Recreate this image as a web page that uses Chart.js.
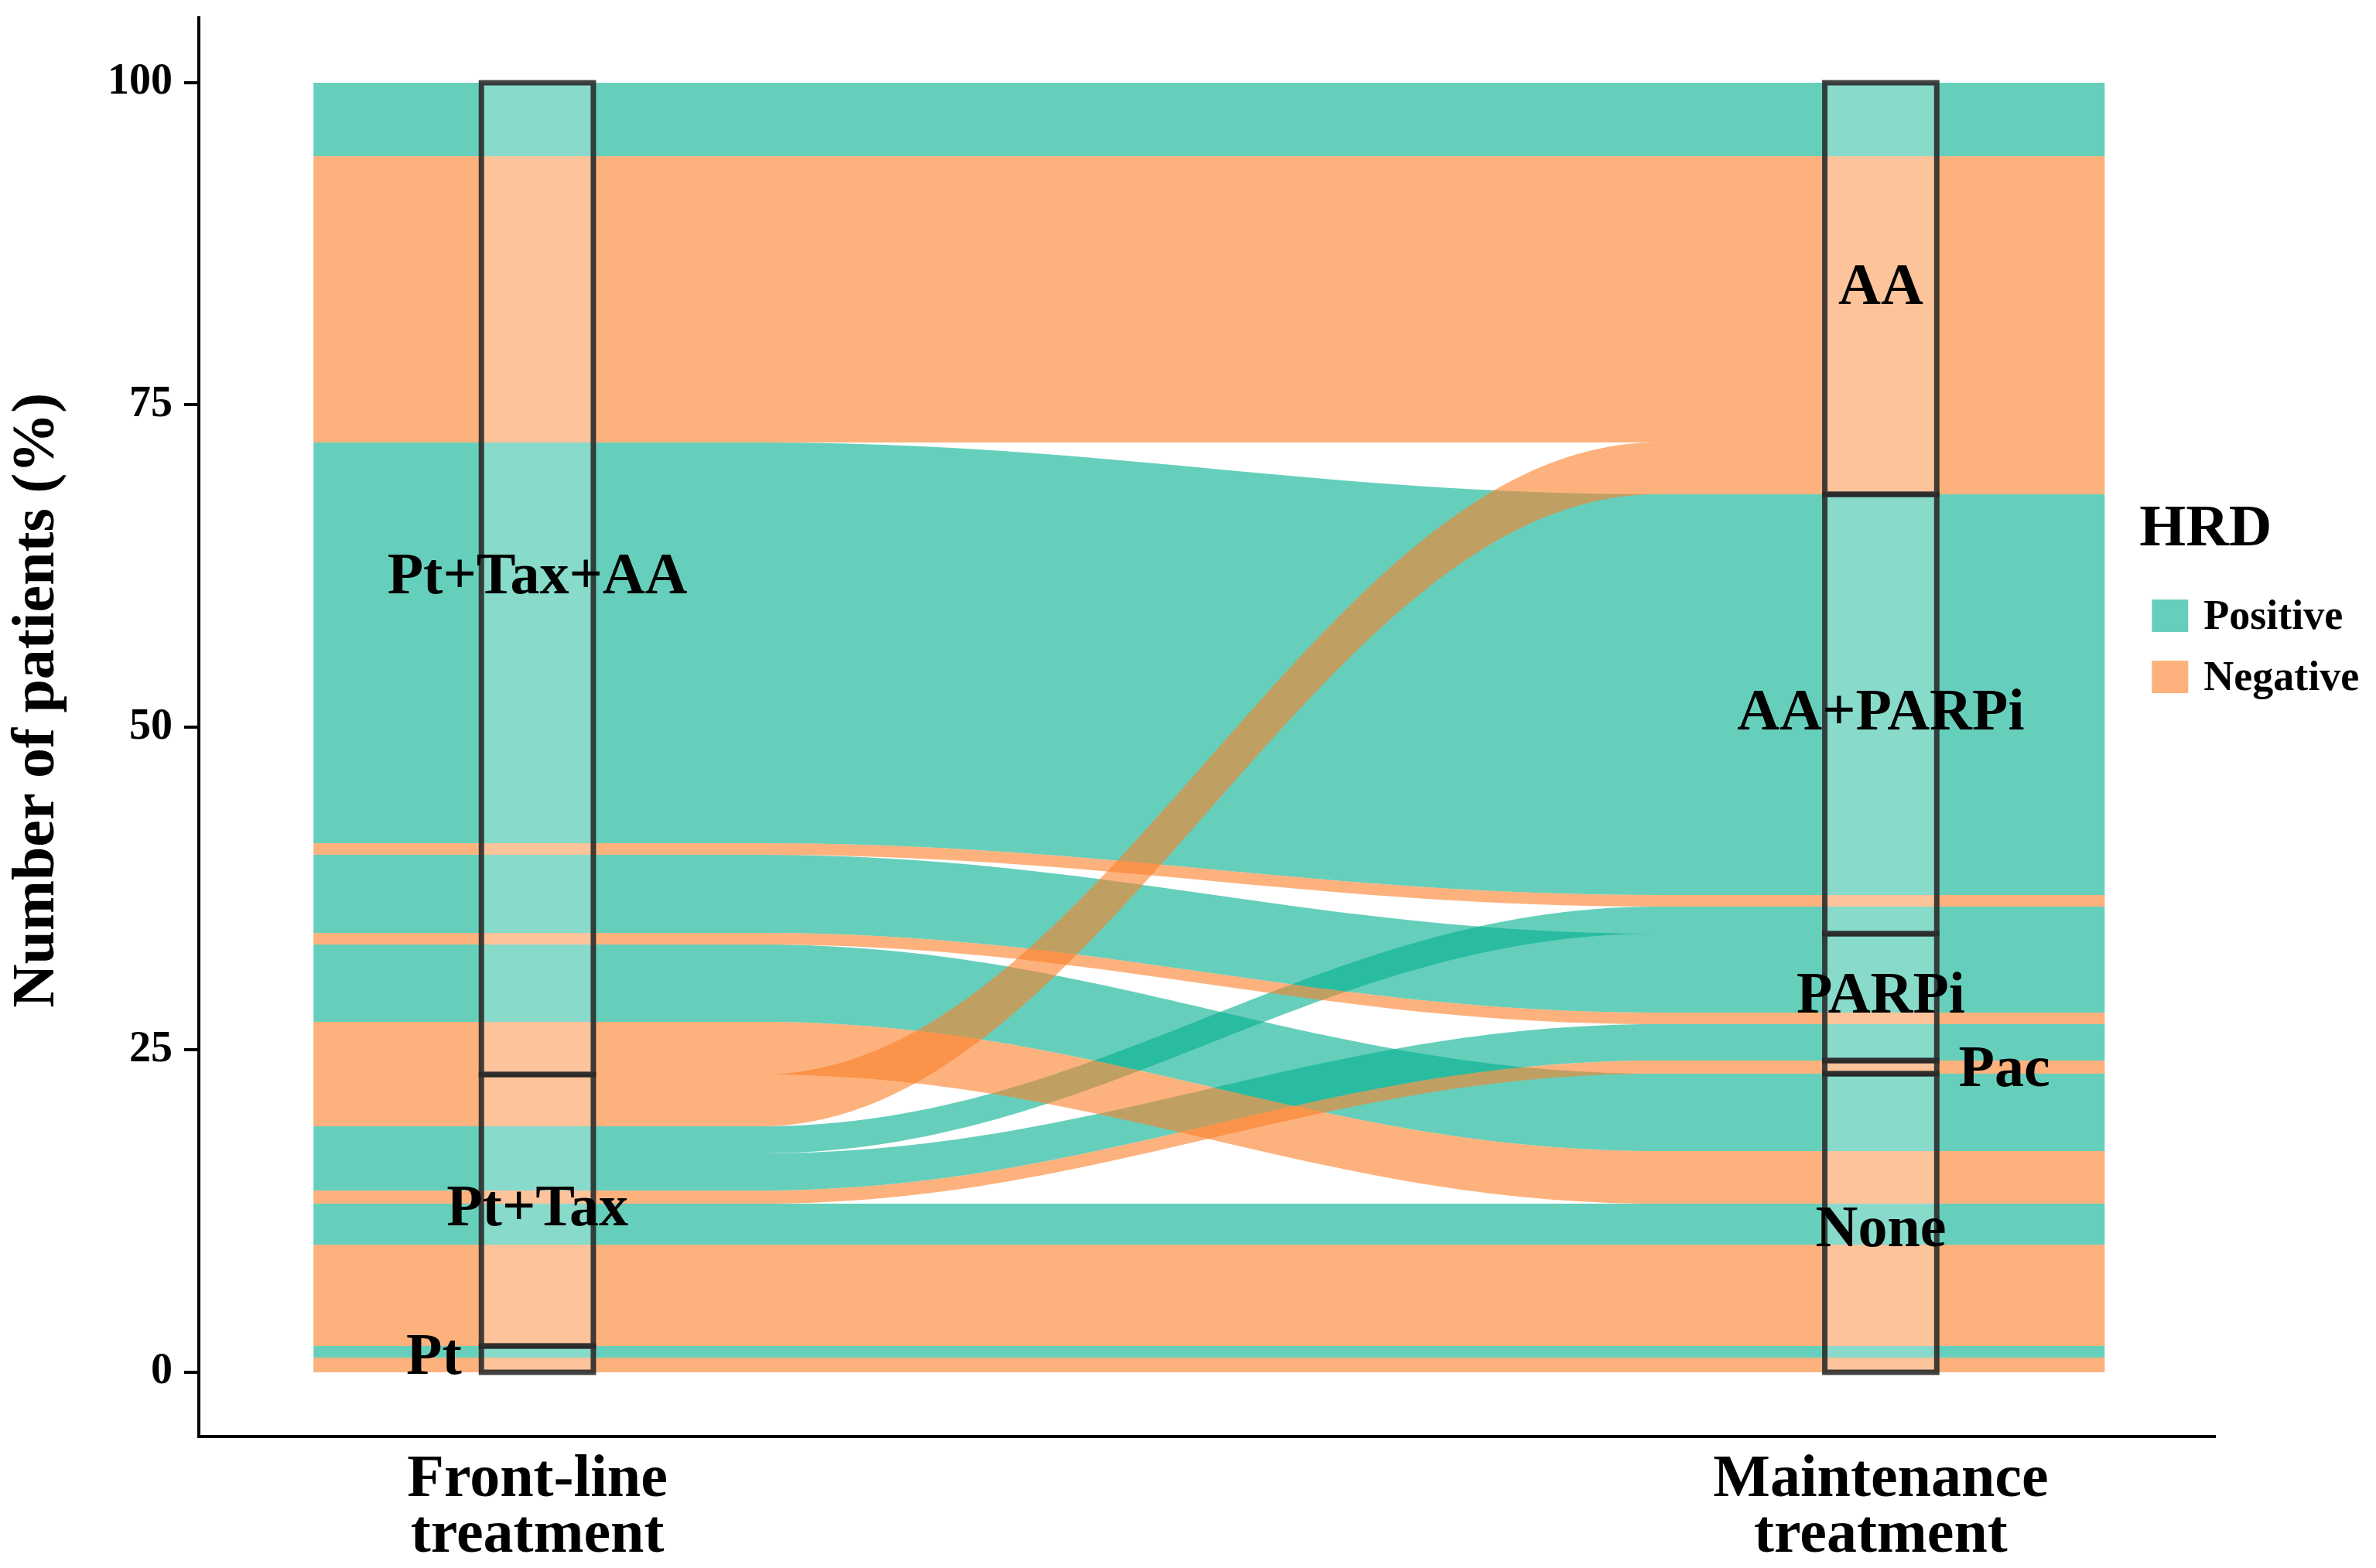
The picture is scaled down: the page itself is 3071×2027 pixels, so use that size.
<!DOCTYPE html>
<html>
<head>
<meta charset="utf-8">
<script src="https://cdn.jsdelivr.net/npm/chart.js@4.4.1/dist/chart.umd.min.js"></script>
<style>
html,body{margin:0;padding:0;background:#ffffff;}
canvas{display:block;}
</style>
</head>
<body>
<canvas id="chart" width="3071" height="2027"></canvas>
<script>
// ---------------- DATA ----------------
const axisNames = [['Front-line', 'treatment'], ['Maintenance', 'treatment']];
const frontStrata = ['Pt', 'Pt+Tax', 'Pt+Tax+AA'];
const maintStrata = ['None', 'Pac', 'PARPi', 'AA+PARPi', 'AA'];
const hrdLevels = ['Positive', 'Negative'];
const yTicks = [0, 25, 50, 75, 100];

// one entry per alluvium (front-line stratum -> maintenance stratum, HRD status, % of patients)
const flowFront = ['Pt', 'Pt', 'Pt+Tax', 'Pt+Tax', 'Pt+Tax', 'Pt+Tax', 'Pt+Tax', 'Pt+Tax',
                   'Pt+Tax+AA', 'Pt+Tax+AA', 'Pt+Tax+AA', 'Pt+Tax+AA', 'Pt+Tax+AA', 'Pt+Tax+AA', 'Pt+Tax+AA', 'Pt+Tax+AA'];
const flowMaint = ['None', 'None', 'None', 'None', 'Pac', 'PARPi', 'AA+PARPi', 'AA',
                   'None', 'None', 'PARPi', 'PARPi', 'AA+PARPi', 'AA+PARPi', 'AA', 'AA'];
const flowHRD   = ['Negative', 'Positive', 'Negative', 'Positive', 'Negative', 'Positive', 'Positive', 'Negative',
                   'Negative', 'Positive', 'Negative', 'Positive', 'Negative', 'Positive', 'Negative', 'Positive'];
const flowPercent = [1.14, 0.90, 7.85, 3.20, 1.00, 2.85, 2.10, 4.05,
                     4.05, 6.00, 0.90, 6.10, 0.90, 31.05, 22.17, 5.74];

// ---------------- STYLE ----------------
const FONT = "'Liberation Serif', 'Times New Roman', serif";
const hrdFill = { Positive: 'rgba(0,175,142,0.6)', Negative: 'rgba(252,127,40,0.6)' };
const ALLUVIUM_WIDTH = 1 / 3;
const STRATUM_WIDTH = 1 / 12;
const KNOT = 0.38;
// label nudges (axis units / percent) for crowded strata
const labelNudge = { 'Pt': [-0.077, 0], 'Pac': [0.092, -0.3], 'None': [0, -0.6] };

// ---------------- LAYOUT OF LODES ----------------
function stackAxis(primary, primaryLevels, secondary, secondaryLevels) {
  const n = flowPercent.length;
  const hOrder = ['Negative', 'Positive'];
  const idx = [...Array(n).keys()].sort((a, b) =>
    primaryLevels.indexOf(primary[a]) - primaryLevels.indexOf(primary[b]) ||
    secondaryLevels.indexOf(secondary[a]) - secondaryLevels.indexOf(secondary[b]) ||
    hOrder.indexOf(flowHRD[a]) - hOrder.indexOf(flowHRD[b]));
  const lodes = new Array(n);
  let acc = 0;
  for (const i of idx) {
    lodes[i] = [acc, acc + flowPercent[i]];
    acc += flowPercent[i];
  }
  const strata = primaryLevels.map(s => {
    let lo = Infinity, hi = -Infinity;
    for (let i = 0; i < n; i++) if (primary[i] === s) { lo = Math.min(lo, lodes[i][0]); hi = Math.max(hi, lodes[i][1]); }
    return { name: s, lo, hi };
  });
  return { lodes, strata };
}

const alluvialPlugin = {
  id: 'alluvial',
  afterDatasetsDraw(chart) {
    const { ctx, scales: { x, y } } = chart;
    const front = stackAxis(flowFront, frontStrata, flowMaint, maintStrata);
    const maint = stackAxis(flowMaint, maintStrata, flowFront, frontStrata);
    const px = v => x.getPixelForValue(v);
    const py = v => Math.round(y.getPixelForValue(v));
    const xa = px(1 - ALLUVIUM_WIDTH / 2), xb = px(1 + ALLUVIUM_WIDTH / 2);
    const xc = px(2 - ALLUVIUM_WIDTH / 2), xd = px(2 + ALLUVIUM_WIDTH / 2);
    const kx = KNOT * (xc - xb);

    ctx.save();
    // alluvia: Positive first, Negative drawn on top
    for (const level of hrdLevels) {
      ctx.fillStyle = hrdFill[level];
      for (let i = 0; i < flowPercent.length; i++) {
        if (flowHRD[i] !== level) continue;
        const [b0, t0] = front.lodes[i];
        const [b1, t1] = maint.lodes[i];
        const yt0 = py(t0), yb0 = py(b0), yt1 = py(t1), yb1 = py(b1);
        ctx.beginPath();
        ctx.moveTo(xa, yt0);
        ctx.lineTo(xb, yt0);
        ctx.bezierCurveTo(xb + kx, yt0, xc - kx, yt1, xc, yt1);
        ctx.lineTo(xd, yt1);
        ctx.lineTo(xd, yb1);
        ctx.lineTo(xc, yb1);
        ctx.bezierCurveTo(xc - kx, yb1, xb + kx, yb0, xb, yb0);
        ctx.lineTo(xa, yb0);
        ctx.closePath();
        ctx.fill();
      }
    }

    // strata boxes
    const axes = [[1, front.strata], [2, maint.strata]];
    ctx.lineWidth = 7;
    ctx.strokeStyle = 'rgba(40,40,40,0.88)';
    for (const [ax, strata] of axes) {
      const x0 = px(ax - STRATUM_WIDTH / 2), x1 = px(ax + STRATUM_WIDTH / 2);
      for (const s of strata) {
        const ytop = py(s.hi), ybot = py(s.lo);
        ctx.fillStyle = 'rgba(255,255,255,0.22)';
        ctx.fillRect(x0, ytop, x1 - x0, ybot - ytop);
        ctx.strokeRect(x0, ytop, x1 - x0, ybot - ytop);
      }
    }

    // stratum labels
    ctx.fillStyle = '#000';
    ctx.font = `bold 76px ${FONT}`;
    ctx.textAlign = 'center';
    ctx.textBaseline = 'middle';
    for (const [ax, strata] of axes) {
      for (const s of strata) {
        const nd = labelNudge[s.name] || [0, 0];
        ctx.fillText(s.name, px(ax + nd[0]), y.getPixelForValue((s.lo + s.hi) / 2 + nd[1]));
      }
    }

    // y-axis title
    ctx.save();
    ctx.font = `bold 78px ${FONT}`;
    ctx.translate(49, (chart.chartArea.top + chart.chartArea.bottom) / 2 - 35);
    ctx.rotate(-Math.PI / 2);
    ctx.textAlign = 'center';
    ctx.textBaseline = 'middle';
    ctx.fillText('Number of patients (%)', 0, 0);
    ctx.restore();

    // legend
    const lx = chart.chartArea.right;
    ctx.textAlign = 'left';
    ctx.textBaseline = 'alphabetic';
    ctx.font = `bold 77px ${FONT}`;
    ctx.fillText('HRD', lx - 98, 705);
    ctx.font = `bold 54px ${FONT}`;
    hrdLevels.forEach((lvl, k) => {
      const top = 775 + k * 79;
      ctx.fillStyle = hrdFill[lvl];
      ctx.fillRect(lx - 82, top, 47, 42);
      ctx.fillStyle = '#000';
      ctx.fillText(lvl, lx - 15, top + 38);
    });
    ctx.restore();
  }
};

new Chart(document.getElementById('chart'), {
  type: 'scatter',
  data: { datasets: [] },
  options: {
    responsive: false,
    devicePixelRatio: 1,
    animation: false,
    layout: { padding: { left: 0, right: 207.7, top: 23.3, bottom: 0 } },
    plugins: { legend: { display: false }, tooltip: { enabled: false } },
    scales: {
      x: {
        type: 'linear',
        min: 0.748,
        max: 2.249,
        afterBuildTicks: s => { s.ticks = [{ value: 1 }, { value: 2 }]; },
        afterFit: s => { s.height = 169.8; },
        ticks: {
          callback: (v, i) => axisNames[i],
          font: { family: FONT, size: 78, weight: 'bold', lineHeight: '72px' },
          color: '#000',
          padding: 21,
          maxRotation: 0,
          autoSkip: false
        },
        grid: { display: false, drawTicks: false },
        border: { display: true, color: '#000', width: 4 }
      },
      y: {
        type: 'linear',
        min: -5,
        max: 105,
        afterBuildTicks: s => { s.ticks = yTicks.map(v => ({ value: v })); },
        afterFit: s => { s.width = 257; s.paddingTop = 0; s.paddingBottom = 0; },
        ticks: {
          font: { family: FONT, size: 56, weight: 'bold', lineHeight: 0.4 },
          color: '#000',
          padding: 15
        },
        grid: { display: true, drawOnChartArea: false, drawTicks: true, tickLength: 19, color: '#000', lineWidth: 4 },
        border: { display: true, color: '#000', width: 4 }
      }
    }
  },
  plugins: [alluvialPlugin]
});
</script>
</body>
</html>
